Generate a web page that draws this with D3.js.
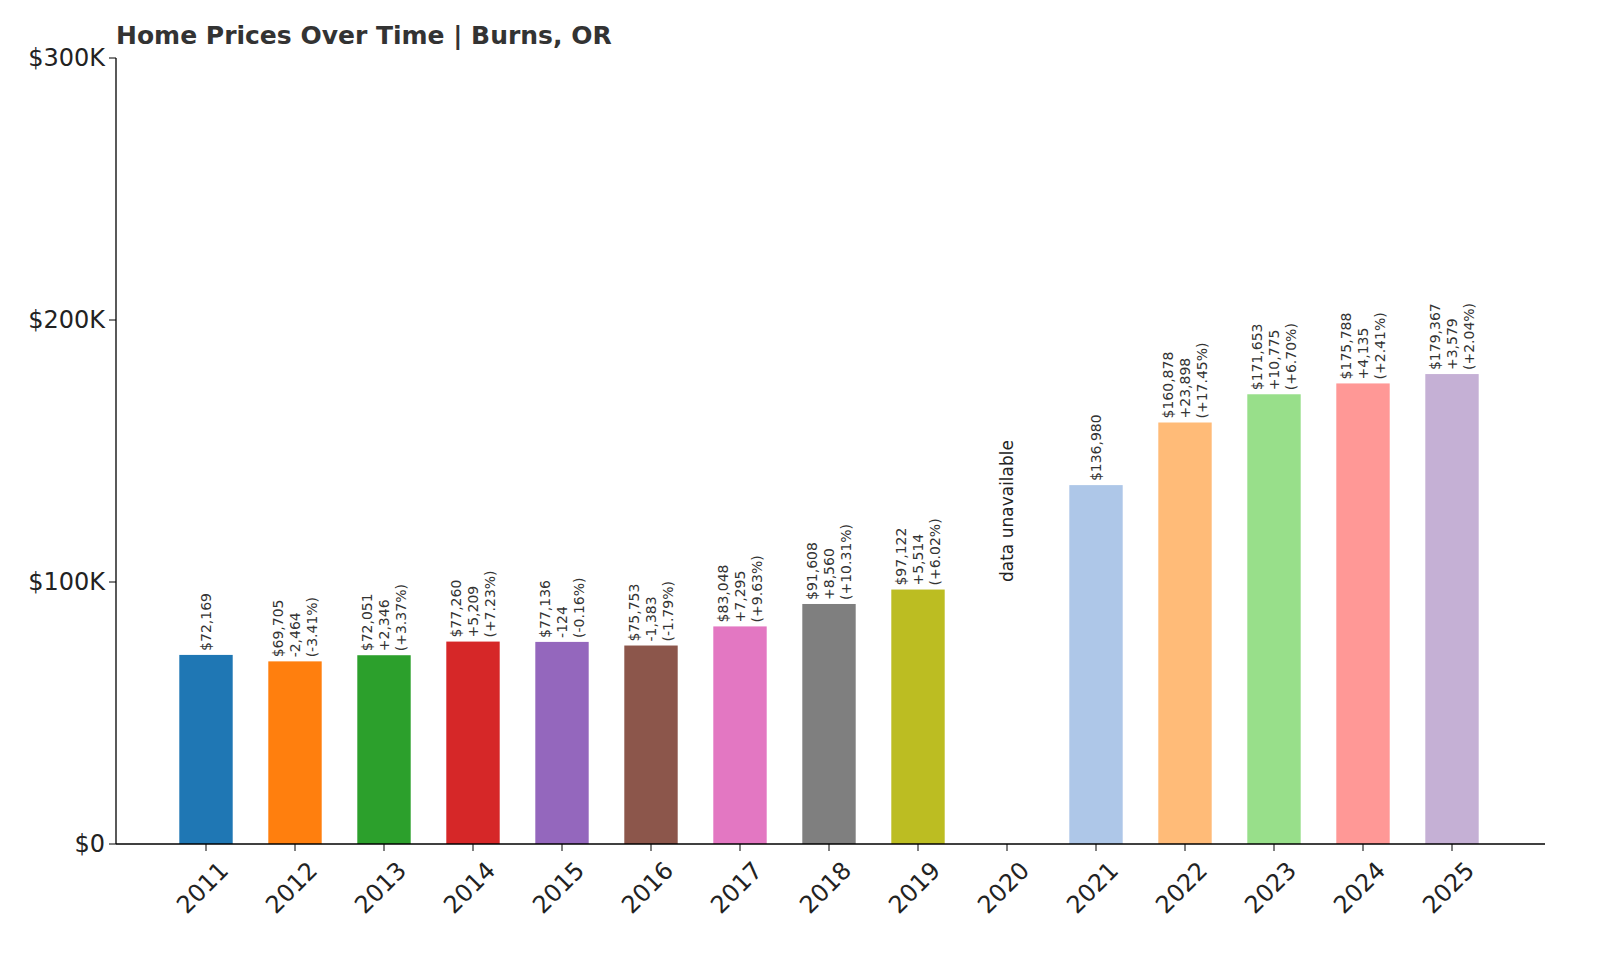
<!DOCTYPE html>
<html><head><meta charset="utf-8">
<script src="https://cdn.jsdelivr.net/npm/d3@7"></script>
<style>body{margin:0;background:#fff}</style></head>
<body><svg id="c" width="1600" height="960"></svg>
<script>
const years=["2011","2012","2013","2014","2015","2016","2017","2018","2019","2020","2021","2022","2023","2024","2025"];
const values=[72169,69705,72051,77260,77136,75753,83048,91608,97122,null,136980,160878,171653,175788,179367];
const changes=[null,"-2,464","+2,346","+5,209","-124","-1,383","+7,295","+8,560","+5,514",null,null,"+23,898","+10,775","+4,135","+3,579"];
const pcts=[null,"(-3.41%)","(+3.37%)","(+7.23%)","(-0.16%)","(-1.79%)","(+9.63%)","(+10.31%)","(+6.02%)",null,null,"(+17.45%)","(+6.70%)","(+2.41%)","(+2.04%)"];
const colors=["#1f77b4","#ff7f0e","#2ca02c","#d62728","#9467bd","#8c564b","#e377c2","#7f7f7f","#bcbd22","#17becf","#aec7e8","#ffbb78","#98df8a","#ff9896","#c5b0d5"];
const yTicks=[0,100000,200000,300000];
const yTickLabels=["$0","$100K","$200K","$300K"];

const svg=d3.select("#c");
const x=d3.scaleBand().domain(years).range([161.5,1496.5]).paddingInner(0.4).paddingOuter(0.2);
const y=d3.scaleLinear().domain([0,300000]).range([844,58]);
const font="DejaVu Sans, sans-serif";

years.forEach((yr,i)=>{
  const v=values[i];
  const cx=x(yr)+x.bandwidth()/2;
  if(v==null){
    svg.append("text").attr("transform",`translate(${cx+6},${y(100000)}) rotate(-90)`)
      .attr("font-family",font).attr("font-size",17).attr("fill","#222").text("data unavailable");
    return;
  }
  svg.append("rect").attr("x",x(yr)).attr("width",x.bandwidth()).attr("y",y(v)).attr("height",y(0)-y(v)).attr("fill",colors[i]);
  const lines=["$"+d3.format(",")(v)];
  if(changes[i]) {lines.push(changes[i]);lines.push(pcts[i]);}
  const n=lines.length, sp=17;
  lines.forEach((t,j)=>{
    const lx=cx+(j-(n-1)/2)*sp+5;
    svg.append("text").attr("transform",`translate(${lx},${y(v)-4}) rotate(-90)`)
      .attr("font-family",font).attr("font-size",14).attr("fill","#333").attr("text-anchor","start").text(t);
  });
});

svg.append("line").attr("x1",116).attr("x2",116).attr("y1",58).attr("y2",844).attr("stroke","#000").attr("stroke-width",1.3);
svg.append("line").attr("x1",116).attr("x2",1545).attr("y1",844).attr("y2",844).attr("stroke","#000").attr("stroke-width",1.3);
yTicks.forEach((t,i)=>{
  svg.append("line").attr("x1",109).attr("x2",116).attr("y1",y(t)).attr("y2",y(t)).attr("stroke","#000");
  svg.append("text").attr("x",105).attr("y",y(t)).attr("dy","0.35em").attr("text-anchor","end")
    .attr("font-family",font).attr("font-size",24).attr("fill","#222").text(yTickLabels[i]);
});
years.forEach(yr=>{
  const cx=x(yr)+x.bandwidth()/2;
  svg.append("line").attr("x1",cx).attr("x2",cx).attr("y1",844).attr("y2",851).attr("stroke","#000");
  svg.append("text").attr("transform",`translate(${cx+12},${860}) rotate(-45)`).attr("text-anchor","end").attr("dy","0.7em")
    .attr("font-family",font).attr("font-size",24).attr("fill","#222").text(yr);
});
svg.append("text").attr("x",116).attr("y",44).attr("font-family",font).attr("font-size",25).attr("font-weight","bold").attr("fill","#333")
  .text("Home Prices Over Time | Burns, OR");
</script></body></html>
